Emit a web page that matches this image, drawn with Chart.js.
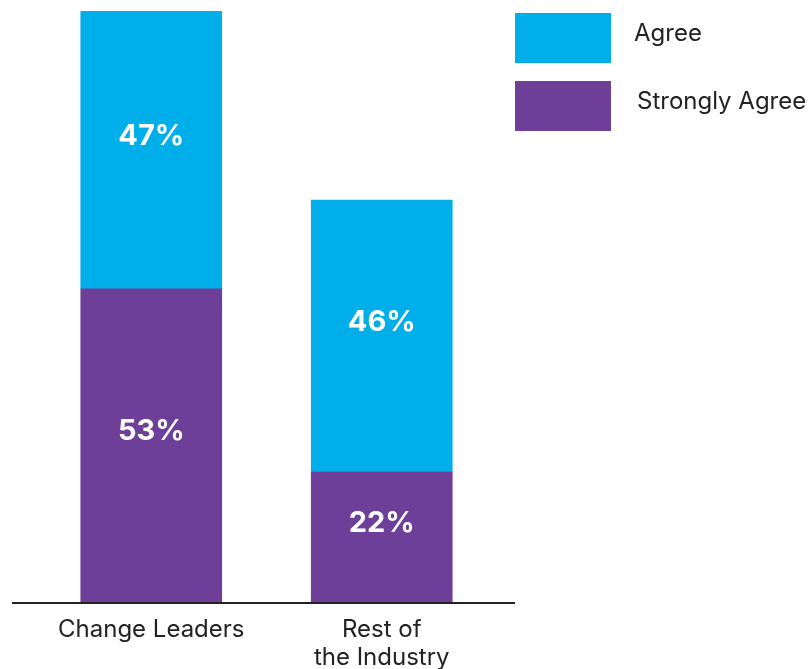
<!DOCTYPE html>
<html>
<head>
<meta charset="utf-8">
<script src="https://cdn.jsdelivr.net/npm/chart.js@4.4.0/dist/chart.umd.min.js"></script>
<style>
    body { margin: 0; background: #fff; }
    #wrap { width: 810px; height: 669px; }
</style>
</head>
<body>
<div id="wrap"><canvas id="barChartCanvas"></canvas></div>
<script>
const categories = [['Change Leaders'], ['Rest of', 'the Industry']];
const seriesNames = ['Strongly Agree', 'Agree'];
const stronglyAgree = [53, 22];
const agree = [47, 46];

const purple = '#6e3f98';
const blue = '#00aeea';
const fontFamily = 'Inter, "Noto Sans", sans-serif';

// percent labels in the middle of each bar segment
const segmentLabels = {
    id: 'segmentLabels',
    afterDatasetsDraw(chart) {
        const ctx = chart.ctx;
        ctx.save();
        ctx.fillStyle = '#fff';
        ctx.font = 'bold 29px ' + fontFamily;
        ctx.textAlign = 'center';
        ctx.textBaseline = 'middle';
        chart.data.datasets.forEach((ds, i) => {
            chart.getDatasetMeta(i).data.forEach((bar, j) => {
                const mid = (bar.y + bar.base) / 2;
                ctx.fillText(ds.data[j] + '%', bar.x, mid - 14);
            });
        });
        ctx.restore();
    }
};

// baseline under the bars, wider than the plot area
const baseline = {
    id: 'baseline',
    afterDraw(chart) {
        const ctx = chart.ctx;
        const y = chart.scales.y.getPixelForValue(0);
        ctx.save();
        ctx.strokeStyle = '#222';
        ctx.lineWidth = 2;
        ctx.beginPath();
        ctx.moveTo(12, y + 1);
        ctx.lineTo(515, y + 1);
        ctx.stroke();
        ctx.restore();
    }
};

// legend boxes to the right, Agree on top
const sideLegend = {
    id: 'sideLegend',
    afterDraw(chart) {
        const ctx = chart.ctx;
        const items = chart.data.datasets.slice().reverse();
        ctx.save();
        ctx.font = '24px ' + fontFamily;
        ctx.textBaseline = 'middle';
        ctx.textAlign = 'left';
        items.forEach((ds, i) => {
            const top = 13 + i * 68;
            ctx.fillStyle = ds.backgroundColor;
            ctx.fillRect(515, top, 96, 50);
            ctx.fillStyle = '#222';
            ctx.fillText(ds.label, 634 + i * 3, top + 21);
        });
        ctx.restore();
    }
};

const barChart = new Chart(document.getElementById('barChartCanvas'), {
    type: 'bar',
    data: {
        labels: categories,
        datasets: [{
            label: seriesNames[0],
            data: stronglyAgree,
            backgroundColor: purple
        }, {
            label: seriesNames[1],
            data: agree,
            backgroundColor: blue
        }]
    },
    options: {
        responsive: true,
        maintainAspectRatio: false,
        animation: false,
        layout: {
            padding: { left: 36, right: 313, top: 11, bottom: 0 }
        },
        plugins: {
            legend: { display: false },
            tooltip: { enabled: false }
        },
        scales: {
            x: {
                stacked: true,
                grid: { display: false, drawTicks: false },
                border: { display: false },
                afterFit(scale) {
                    scale.height = 67;
                },
                ticks: {
                    color: '#222',
                    padding: 14,
                    font: { family: fontFamily, size: 24, lineHeight: 1.17 }
                }
            },
            y: {
                stacked: true,
                display: false,
                min: 0,
                max: 100
            }
        },
        datasets: {
            bar: { barThickness: 141 }
        }
    },
    plugins: [segmentLabels, baseline, sideLegend]
});
</script>
</body>
</html>
